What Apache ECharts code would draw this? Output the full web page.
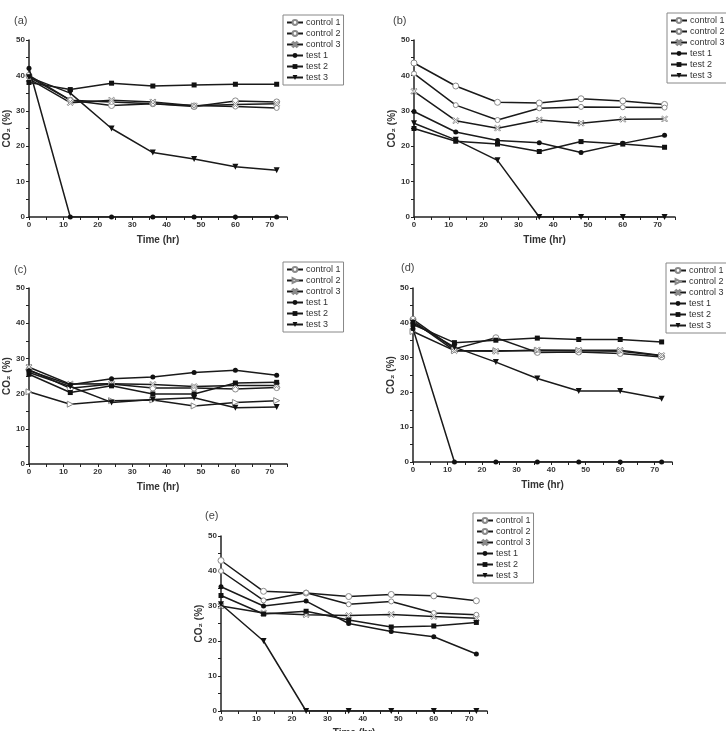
<!DOCTYPE html>
<html><head><meta charset="utf-8">
<script src="https://cdn.jsdelivr.net/npm/echarts@6/dist/echarts.min.js"></script>
<style>html,body{margin:0;padding:0;background:#fff}#c{width:726px;height:731px}</style>
</head><body><div id="c"></div>
<script>
const times = [0, 12, 24, 36, 48, 60, 72];
const seriesNames = ['control 1', 'control 2', 'control 3', 'test 1', 'test 2', 'test 3'];
const panelLabels = ['(a)', '(b)', '(c)', '(d)', '(e)'];
const xTicks = [0, 10, 20, 30, 40, 50, 60, 70];

// (a)
const a_control1 = [40, 33, 31.5, 32, 31.2, 32.8, 32.5];
const a_control2 = [39.5, 33, 32.5, 32, 31.5, 31.2, 30.8];
const a_control3 = [39, 32.3, 33, 32.5, 31.4, 31.8, 32];
const a_test1 = [42, 0, 0, 0, 0, 0, 0];
const a_test2 = [38, 36, 37.8, 37, 37.3, 37.5, 37.5];
const a_test3 = [39.5, 35, 25, 18.2, 16.4, 14.2, 13.2];
// (b)
const b_control1 = [43.5, 37, 32.4, 32.2, 33.4, 32.8, 31.8];
const b_control2 = [40.5, 31.6, 27.4, 30.7, 31.1, 31, 30.9];
const b_control3 = [35.5, 27.2, 25.1, 27.4, 26.5, 27.6, 27.7];
const b_test1 = [29.8, 24, 21.6, 21, 18.2, 20.8, 23.1];
const b_test2 = [25, 21.4, 20.6, 18.5, 21.3, 20.6, 19.7];
const b_test3 = [26.5, 21.8, 16, 0, 0, 0, 0];
// (c)
const c_control1 = [26.8, 21.5, 22.7, 21.6, 21.6, 21.3, 21.7];
const c_control2 = [20.5, 17, 18, 18.2, 16.5, 17.5, 18];
const c_control3 = [27.5, 22.7, 22.8, 22.6, 22, 22.3, 22.3];
const c_test1 = [26.5, 22.5, 24.2, 24.7, 26, 26.6, 25.2];
const c_test2 = [25.5, 20.3, 22.2, 19.9, 19.9, 23, 23.2];
const c_test3 = [26, 22, 17.5, 18.3, 18.8, 16, 16.2];
// (d)
const d_control1 = [41, 32.5, 35.7, 31.5, 31.6, 31.2, 30.2];
const d_control2 = [37.5, 32, 32, 32, 32, 31.8, 30.5];
const d_control3 = [40.5, 32, 31.8, 32.2, 32.1, 32.1, 30.6];
const d_test1 = [38.3, 0, 0, 0, 0, 0, 0];
const d_test2 = [39.5, 34.3, 35, 35.6, 35.2, 35.2, 34.5];
const d_test3 = [40, 33, 28.7, 24, 20.4, 20.4, 18.2];
// (e)
const e_control1 = [43, 34.2, 33.7, 32.7, 33.3, 32.9, 31.5];
const e_control2 = [40, 31.6, 33.8, 30.5, 31.3, 28, 27.5];
const e_control3 = [30, 28, 27.5, 27.3, 27.6, 27, 26.5];
const e_test1 = [35.5, 30, 31.4, 25, 22.7, 21.2, 16.3];
const e_test2 = [33, 27.7, 28.5, 26, 24, 24.3, 25.3];
const e_test3 = [30.5, 20, 0, 0, 0, 0, 0];

const panelData = [
  [a_control1, a_control2, a_control3, a_test1, a_test2, a_test3],
  [b_control1, b_control2, b_control3, b_test1, b_test2, b_test3],
  [c_control1, c_control2, c_control3, c_test1, c_test2, c_test3],
  [d_control1, d_control2, d_control3, d_test1, d_test2, d_test3],
  [e_control1, e_control2, e_control3, e_test1, e_test2, e_test3]
];

// layout
const grids = [
  {left: 29, top: 40, width: 258, height: 177},
  {left: 414, top: 40, width: 261, height: 177},
  {left: 29, top: 288, width: 258, height: 176},
  {left: 413, top: 288, width: 259, height: 174},
  {left: 221, top: 536, width: 266, height: 175}
].map(g => Object.assign({outerBoundsMode: 'none', containLabel: false}, g));
const legendPos = [[283, 15], [667, 13], [283, 262], [666, 263], [473, 513]];
const labelPos = [[14, 15], [393, 15], [14, 264], [401, 262], [205, 510]];
const xNameGaps = [18, 18, 18, 18, 17];

const xShape = 'path://M0,1.5L1.5,0L5,3.5L8.5,0L10,1.5L6.5,5L10,8.5L8.5,10L5,6.5L1.5,10L0,8.5L3.5,5Z';
function markerFor(p, i) {
  const triR = (p === 2 || p === 3);
  const open = {color: '#fff', borderColor: '#8a8a8a', borderWidth: 1};
  const fill = {color: '#111', borderColor: '#111', borderWidth: 0};
  switch (i) {
    case 0: return {symbol: 'circle', symbolSize: 6, itemStyle: open};
    case 1: return triR ? {symbol: 'triangle', symbolSize: 6, symbolRotate: -90, itemStyle: open}
                        : {symbol: 'circle', symbolSize: 5, itemStyle: open};
    case 2: return {symbol: xShape, symbolSize: 6, itemStyle: open};
    case 3: return {symbol: 'circle', symbolSize: 5, itemStyle: fill};
    case 4: return {symbol: 'rect', symbolSize: 5, itemStyle: fill};
    default: return {symbol: 'triangle', symbolSize: 6, symbolRotate: 180, itemStyle: fill};
  }
}

const FONT = 'Liberation Sans';
const option = {
  animation: false,
  backgroundColor: '#fff',
  textStyle: {fontFamily: FONT},
  title: panelLabels.map((t, p) => ({
    text: t, left: labelPos[p][0], top: labelPos[p][1], padding: 0,
    textStyle: {fontSize: 11, fontWeight: 'normal', color: '#444', fontFamily: FONT}
  })),
  grid: grids,
  xAxis: grids.map((g, p) => ({
    type: 'value', gridIndex: p, min: 0, max: 75, interval: 10,
    name: 'Time (hr)', nameLocation: 'middle', nameGap: xNameGaps[p],
    nameTextStyle: {fontSize: 10, fontWeight: 'bold', color: '#333', fontFamily: FONT},
    axisLine: {show: true, onZero: false, lineStyle: {color: '#222', width: 1.5}},
    axisTick: {show: true, length: 3, lineStyle: {color: '#222'}},
    minorTick: {show: true, splitNumber: 2, length: 3, lineStyle: {color: '#222'}},
    splitLine: {show: false},
    axisLabel: {fontSize: 8, fontWeight: 'bold', color: '#333', margin: 4,
      customValues: xTicks}
  })),
  yAxis: grids.map((g, p) => ({
    type: 'value', gridIndex: p, min: 0, max: 50, interval: 10,
    name: 'CO\u2082 (%)', nameLocation: 'middle', nameGap: 17, nameRotate: 90,
    nameTextStyle: {fontSize: 10, fontWeight: 'bold', color: '#333', fontFamily: FONT},
    axisLine: {show: true, lineStyle: {color: '#222', width: 1.5}},
    axisTick: {show: true, length: 3, lineStyle: {color: '#222'}},
    minorTick: {show: true, splitNumber: 2, length: 3, lineStyle: {color: '#222'}},
    splitLine: {show: false},
    axisLabel: {fontSize: 8, fontWeight: 'bold', color: '#333', margin: 4}
  })),
  legend: legendPos.map((pos, p) => ({
    left: pos[0], top: pos[1], orient: 'vertical',
    data: seriesNames.map(n => panelLabels[p] + '|' + n),
    formatter: n => n.split('|')[1],
    itemWidth: 16, itemHeight: 6, itemGap: 2,
    padding: [3, 3, 3, 3],
    borderColor: '#888', borderWidth: 1,
    selectedMode: false,
    textStyle: {fontSize: 9, color: '#333', lineHeight: 9, padding: [0, 0, 0, -2], fontFamily: FONT}
  })),
  series: []
};

panelData.forEach((arrs, p) => {
  arrs.forEach((vals, i) => {
    const m = markerFor(p, i);
    option.series.push(Object.assign({
      type: 'line',
      name: panelLabels[p] + '|' + seriesNames[i],
      xAxisIndex: p, yAxisIndex: p,
      data: times.map((t, k) => [t, vals[k]]),
      showSymbol: true,
      lineStyle: {color: '#1a1a1a', width: 1.5},
      emphasis: {disabled: true},
      z: i >= 3 ? 3 : 2
    }, m));
  });
});

const chart = echarts.init(document.getElementById('c'), null, {renderer: 'canvas'});
chart.setOption(option);
</script></body></html>
